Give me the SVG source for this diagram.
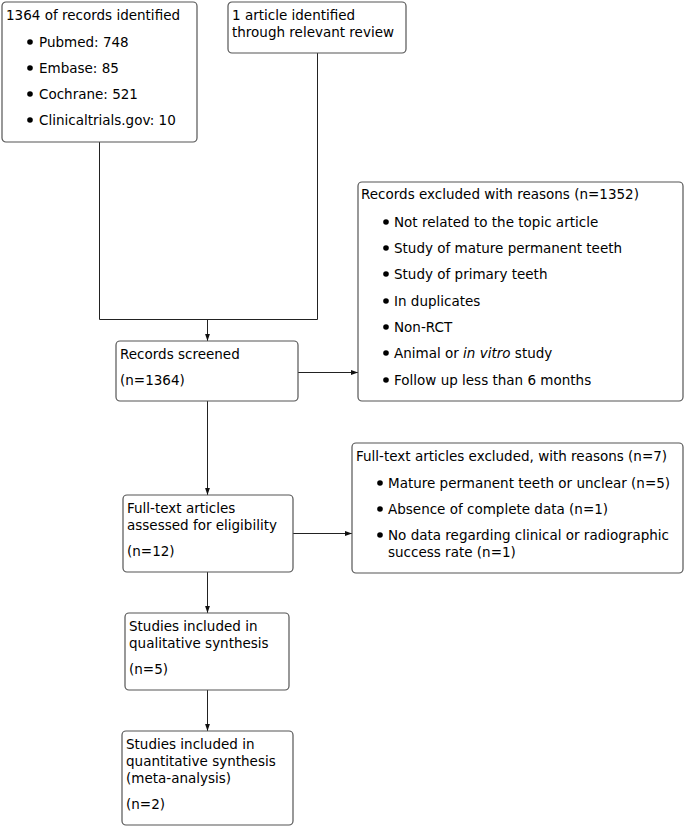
<svg xmlns="http://www.w3.org/2000/svg" width="685" height="827" viewBox="0 0 685 827">
<style>
.box{fill:#fff;stroke:#555;stroke-width:1.2}
.ln{fill:none;stroke:#222;stroke-width:1}
text{font-family:"DejaVu Sans","Liberation Sans",sans-serif;font-size:13.5px;fill:#000}
.b{fill:#000}
</style>
<defs>
<marker id="ah" markerUnits="userSpaceOnUse" markerWidth="7" markerHeight="6" viewBox="0 0 7 6" refX="7" refY="3" orient="auto">
<path d="M0,0.6 L7,3 L0,5.4 Z" fill="#111"/>
</marker>
</defs>
<rect width="685" height="827" fill="#fff"/>
<g id="connectors">
<polyline class="ln" points="99.5,142 99.5,319.5 317.5,319.5 317.5,53"/>
<line class="ln" x1="207.5" y1="319.5" x2="207.5" y2="341" marker-end="url(#ah)"/>
<line class="ln" x1="298" y1="372.5" x2="358" y2="372.5" marker-end="url(#ah)"/>
<line class="ln" x1="207.5" y1="401" x2="207.5" y2="495" marker-end="url(#ah)"/>
<line class="ln" x1="293" y1="533.5" x2="352" y2="533.5" marker-end="url(#ah)"/>
<line class="ln" x1="207.5" y1="572" x2="207.5" y2="613" marker-end="url(#ah)"/>
<line class="ln" x1="207.5" y1="690" x2="207.5" y2="731" marker-end="url(#ah)"/>
</g>
<g id="identified">
<rect class="box" x="2" y="2" width="195" height="140" rx="4"/>
<text x="6" y="20">1364 of records identified</text>
<circle class="b" cx="30" cy="42" r="2.8"/><text x="39" y="47">Pubmed: 748</text>
<circle class="b" cx="30" cy="68" r="2.8"/><text x="39" y="73">Embase: 85</text>
<circle class="b" cx="30" cy="94" r="2.8"/><text x="39" y="99">Cochrane: 521</text>
<circle class="b" cx="30" cy="120" r="2.8"/><text x="39" y="125">Clinicaltrials.gov: 10</text>
</g>
<g id="review">
<rect class="box" x="228" y="2" width="178" height="51" rx="4"/>
<text x="232" y="20">1 article identified</text>
<text x="232" y="37">through relevant review</text>
</g>
<g id="screened">
<rect class="box" x="116" y="341" width="182" height="60" rx="4"/>
<text x="120" y="359">Records screened</text>
<text x="120" y="385">(n=1364)</text>
</g>
<g id="excluded1">
<rect class="box" x="358" y="182" width="325" height="219" rx="4"/>
<text x="361" y="199">Records excluded with reasons (n=1352)</text>
<circle class="b" cx="386" cy="222" r="2.8"/><text x="394" y="227">Not related to the topic article</text>
<circle class="b" cx="386" cy="248" r="2.8"/><text x="394" y="253">Study of mature permanent teeth</text>
<circle class="b" cx="386" cy="274" r="2.8"/><text x="394" y="279">Study of primary teeth</text>
<circle class="b" cx="386" cy="301" r="2.8"/><text x="394" y="306">In duplicates</text>
<circle class="b" cx="386" cy="327" r="2.8"/><text x="394" y="332">Non-RCT</text>
<circle class="b" cx="386" cy="353" r="2.8"/><text x="394" y="358">Animal or <tspan font-style="italic">in vitro</tspan> study</text>
<circle class="b" cx="386" cy="380" r="2.8"/><text x="394" y="385">Follow up less than 6 months</text>
</g>
<g id="fulltext">
<rect class="box" x="123" y="495" width="170" height="77" rx="4"/>
<text x="127" y="513">Full-text articles</text>
<text x="127" y="530">assessed for eligibility</text>
<text x="127" y="556">(n=12)</text>
</g>
<g id="excluded2">
<rect class="box" x="352" y="443" width="331" height="130" rx="4"/>
<text x="356" y="461">Full-text articles excluded, with reasons (n=7)</text>
<circle class="b" cx="380" cy="483" r="2.8"/><text x="388" y="488">Mature permanent teeth or unclear (n=5)</text>
<circle class="b" cx="380" cy="509" r="2.8"/><text x="388" y="514">Absence of complete data (n=1)</text>
<circle class="b" cx="380" cy="535" r="2.8"/><text x="388" y="540">No data regarding clinical or radiographic</text>
<text x="388" y="557">success rate (n=1)</text>
</g>
<g id="qualitative">
<rect class="box" x="125" y="613" width="164" height="77" rx="4"/>
<text x="129" y="631">Studies included in</text>
<text x="129" y="648">qualitative synthesis</text>
<text x="129" y="674">(n=5)</text>
</g>
<g id="quantitative">
<rect class="box" x="122" y="731" width="171" height="94" rx="4"/>
<text x="126" y="749">Studies included in</text>
<text x="126" y="766">quantitative synthesis</text>
<text x="126" y="783">(meta-analysis)</text>
<text x="126" y="809">(n=2)</text>
</g>
</svg>
